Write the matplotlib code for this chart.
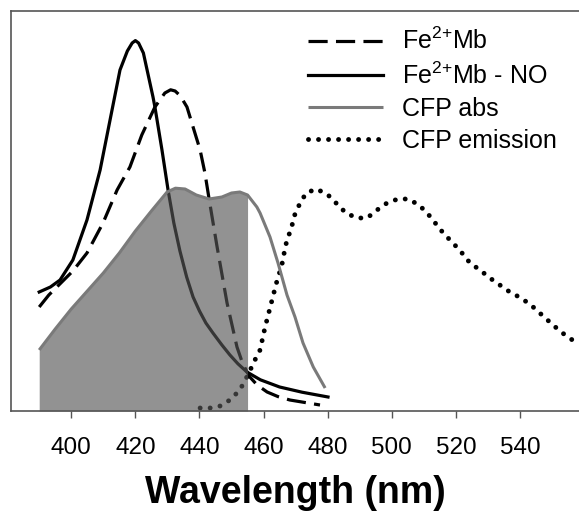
import matplotlib
matplotlib.use("Agg")
import matplotlib.pyplot as plt
import numpy as np

plt.rcParams['font.family'] = ['Liberation Sans', 'DejaVu Sans']
plt.rcParams['mathtext.fontset'] = 'custom'
plt.rcParams['mathtext.rm'] = 'Liberation Sans'
plt.rcParams['mathtext.it'] = 'Liberation Sans'

# Fe2+Mb-NO (solid black)
no_x = [390, 393.5, 396.5, 400.5, 404.9, 409.0, 412.1, 415.2, 417.5, 419.0, 420.0, 421.0, 422.5, 425.5, 426.1,
        428.3, 430.2, 432.0, 433.9, 436.0, 438.0, 440.0, 442.0, 444.2, 447.0, 449.5, 452.0, 454.8, 459.0,
        465.0, 472.0, 480.1]
no_y = [0.2975, 0.31, 0.3275, 0.3775, 0.4775, 0.6025, 0.7275, 0.8525, 0.90, 0.92, 0.926, 0.92, 0.895, 0.785, 0.76,
        0.6525, 0.5525, 0.47, 0.40, 0.335, 0.285, 0.25, 0.22, 0.195, 0.165, 0.14, 0.118, 0.0975, 0.078,
        0.06, 0.047, 0.035]

# Fe2+Mb (dashed black)
mb_x = [390, 393.0, 396.5, 400.5, 404.9, 409.9, 414.3, 418.3, 422.0, 426.1, 429.2, 431.0, 432.4, 434.0, 436.1,
        438.0, 440.2, 441.7, 443.0, 445.5, 448.6, 451.7, 453.5, 455.7, 458.0, 461.1, 464.5, 468.2, 477.6]
mb_y = [0.26, 0.29, 0.318, 0.35, 0.395, 0.47, 0.5525, 0.61, 0.69, 0.76, 0.795, 0.803, 0.80, 0.788, 0.76,
        0.71, 0.6525, 0.595, 0.53, 0.41, 0.27, 0.16, 0.118, 0.085, 0.065, 0.0475, 0.036, 0.0275, 0.015]

# CFP absorbance (grey)
abs_x = [390, 395, 400, 405, 410, 415, 420, 425, 429.9, 432.5, 435.5, 439.0, 443.0, 447.0, 450.0, 452.6, 455.0,
         457.9, 458.9, 462.0, 464.5, 467.3, 469.8, 472.3, 475.5, 479.2]
abs_y = [0.1525, 0.205, 0.255, 0.30, 0.345, 0.395, 0.45, 0.50, 0.5475, 0.557, 0.555, 0.54, 0.53, 0.535, 0.545,
         0.5475, 0.54, 0.51, 0.495, 0.435, 0.37, 0.29, 0.235, 0.17, 0.11, 0.0575]

# CFP emission (dotted)
em_x = [440.2, 443.3, 446.4, 449.5, 452.6, 455.1, 457.3, 458.9, 460.4, 462.0, 464.0, 465.7, 466.9, 467.9,
        468.9, 469.8, 471.4, 473.3, 476.4, 479.8, 482.6, 485.7, 489.1, 492.3, 495.4, 498.5, 501.9, 505.1,
        508.5, 511.3, 513.8, 516.3, 519.1, 521.9, 524.4, 527.5, 530.6, 533.7, 536.8, 540.3, 543.4, 546.5,
        549.6, 552.8, 555.9, 558.5]
em_y = [0.0075, 0.0075, 0.0125, 0.0275, 0.0525, 0.09, 0.1275, 0.1525, 0.2075, 0.2575, 0.32, 0.365, 0.415, 0.44,
        0.465, 0.4925, 0.52, 0.545, 0.555, 0.5425, 0.52, 0.495, 0.4825, 0.4825, 0.5025, 0.52, 0.53, 0.53,
        0.515, 0.4925, 0.4675, 0.4425, 0.42, 0.395, 0.37, 0.3525, 0.3325, 0.315, 0.2975, 0.2825, 0.265, 0.2425,
        0.22, 0.1975, 0.18, 0.165]

fill_end = 455.0
xticks = [400, 420, 440, 460, 480, 500, 520, 540]

fig = plt.figure(figsize=(5.79, 5.15), dpi=100)
ax = fig.add_axes([11/579, (515-411)/515, 1 - 11/579, 400/515])

ax_x = np.array(abs_x)
ax_y = np.array(abs_y)
mask = ax_x <= fill_end
fx = np.append(ax_x[mask], fill_end)
fy = np.append(ax_y[mask], np.interp(fill_end, ax_x, ax_y))
ax.fill_between(fx, 0, fy, color='#555555', alpha=0.64, lw=0, zorder=5)

ax.plot(abs_x, abs_y, color='#7a7a7a', lw=2.2, solid_capstyle='butt', solid_joinstyle='round',
        label='CFP abs', zorder=6)
ax.plot(mb_x, mb_y, color='black', lw=2.3, dashes=(6, 2.6), label='Fe$^{2{+}}$Mb', zorder=3)
ax.plot(no_x, no_y, color='black', lw=2.3, solid_joinstyle='round', label='Fe$^{2{+}}$Mb - NO', zorder=3)
ax.plot(em_x, em_y, color='black', lw=3.5, dashes=(0.01, 2.05), dash_capstyle='round',
        label='CFP emission', zorder=4)

ax.set_xlim(381.2, 558.4)
ax.set_ylim(0, 1)
ax.set_yticks([])
ax.set_xticks(xticks)
ax.tick_params(axis='x', direction='out', length=5, width=1, color='#555555', pad=14, labelsize=17.5)
for s in ['left', 'top', 'bottom']:
    ax.spines[s].set_color('#555555')
    ax.spines[s].set_linewidth(1.2)
    ax.spines[s].set_zorder(7)
ax.spines['right'].set_visible(False)

ax.set_xlabel('Wavelength (nm)', fontsize=27, fontweight='bold', labelpad=11)

handles, labels = ax.get_legend_handles_labels()
order = [1, 2, 0, 3]
ax.legend([handles[i] for i in order], [labels[i] for i in order], loc='upper left',
          bbox_to_anchor=((308 - 11) / 568, (411 - 28) / 400), frameon=False, fontsize=18,
          handlelength=3.0, handletextpad=0.76, labelspacing=0.32, borderaxespad=0, borderpad=0)

fig.savefig('out.png', dpi=100)
